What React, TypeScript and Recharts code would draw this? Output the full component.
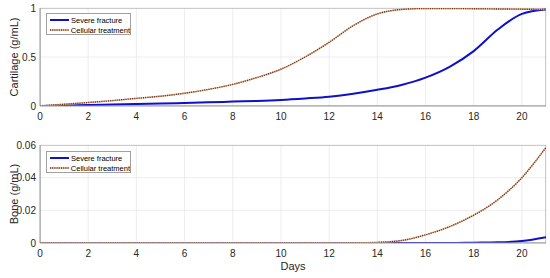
import { LineChart, Line, XAxis, YAxis, CartesianGrid, ReferenceArea } from 'recharts';

const days = [0, 1, 2, 3, 4, 5, 6, 7, 8, 9, 10, 11, 12, 13, 14, 15, 16, 17, 18, 19, 20, 21];
const cartilageSevere = [0, 0.005, 0.01, 0.015, 0.02, 0.025, 0.03, 0.037, 0.045, 0.052, 0.062, 0.077, 0.095, 0.125, 0.165, 0.215, 0.29, 0.4, 0.56, 0.78, 0.94, 0.985];
const cartilageCellular = [0, 0.018, 0.035, 0.055, 0.078, 0.1, 0.13, 0.17, 0.22, 0.29, 0.375, 0.5, 0.65, 0.82, 0.94, 0.985, 0.995, 0.995, 0.993, 0.99, 0.988, 0.985];
const boneSevere = [0, 0, 0, 0, 0, 0, 0, 0, 0, 0, 0, 0, 0, 0, 0, 0, 0, 0, 0.0002, 0.0004, 0.0012, 0.0035];
const boneCellular = [0, 0, 0, 0, 0, 0, 0, 0, 0, 0, 0, 0, 0, 0.0001, 0.0004, 0.0015, 0.005, 0.01, 0.017, 0.0265, 0.04, 0.0585];

const xTicks = [0, 2, 4, 6, 8, 10, 12, 14, 16, 18, 20];
const cartilageTicks = [0, 0.5, 1];
const boneTicks = [0, 0.02, 0.04, 0.06];
const seriesNames = ['Severe fracture', 'Cellular treatment'];

const cartilageData = days.map((d, i) => ({ day: d, severe: cartilageSevere[i], cellular: cartilageCellular[i] }));
const boneData = days.map((d, i) => ({ day: d, severe: boneSevere[i], cellular: boneCellular[i] }));

const BLUE = '#1010c8';
const BROWN_BASE = '#dcae86';
const BROWN_DOT = '#6e2a12';
const FONT = 'Liberation Sans, Arial, sans-serif';
const tickStyle = { fontSize: 10, fill: '#262626', fontFamily: FONT };

function LegendBox({ top }: { top: number }) {
  return (
    <div
      style={{
        position: 'absolute',
        left: 46,
        top,
        width: 85,
        height: 22,
        border: '1px solid #a0a0a0',
        background: 'white',
        fontFamily: FONT,
        fontSize: 7.5,
        color: '#000',
        boxSizing: 'border-box',
      }}
    >
      {seriesNames.map((name, i) => (
        <div key={name} style={{ display: 'flex', alignItems: 'center', height: 10, marginTop: i === 0 ? 1 : 0 }}>
          <svg width={22} height={6} style={{ marginLeft: 2 }}>
            {i === 0 ? (
              <line x1={1} y1={3} x2={20} y2={3} stroke={BLUE} strokeWidth={2} />
            ) : (
              <>
                <line x1={1} y1={3} x2={20} y2={3} stroke={BROWN_BASE} strokeWidth={1.4} />
                <line x1={1} y1={3} x2={20} y2={3} stroke={BROWN_DOT} strokeWidth={1.4} strokeDasharray="1 1.2" />
              </>
            )}
          </svg>
          <span style={{ whiteSpace: 'nowrap' }}>{name}</span>
        </div>
      ))}
    </div>
  );
}

function Panel({
  data,
  height,
  top,
  bottom,
  yMax,
  ticks,
  yLabel,
  xLabel,
}: {
  data: Array<Record<string, number>>;
  height: number;
  top: number;
  bottom: number;
  yMax: number;
  ticks: number[];
  yLabel: string;
  xLabel?: string;
}) {
  return (
    <LineChart width={550} height={height} data={data} margin={{ top, right: 4, bottom: 0, left: 0 }}>
      <CartesianGrid stroke="#e8e8e8" strokeWidth={0.8} />
      <XAxis
        dataKey="day"
        type="number"
        domain={[0, 21]}
        ticks={xTicks}
        allowDataOverflow
        height={bottom}
        tickLine={false}
        tickSize={4}
        tickMargin={3}
        axisLine={{ stroke: '#a0a0a0' }}
        tick={tickStyle}
        label={
          xLabel
            ? { value: xLabel, position: 'insideBottom', offset: 8, style: { fontSize: 11, fill: '#262626', fontFamily: FONT } }
            : undefined
        }
      />
      <YAxis
        type="number"
        domain={[0, yMax]}
        ticks={ticks}
        allowDataOverflow
        width={40}
        tickLine={false}
        tickSize={2}
        tickMargin={2}
        axisLine={{ stroke: '#a0a0a0' }}
        tick={tickStyle}
        label={{
          value: yLabel,
          angle: -90,
          position: 'insideLeft',
          offset: 14,
          style: { textAnchor: 'middle', fontSize: 11, fill: '#262626', fontFamily: FONT },
        }}
      />
      <ReferenceArea x1={0} x2={21} y1={0} y2={yMax} fill="none" stroke="#a0a0a0" strokeOpacity={1} ifOverflow="hidden" />
      <Line type="monotone" dataKey="severe" stroke={BLUE} strokeWidth={2} dot={false} isAnimationActive={false} />
      <Line type="monotone" dataKey="cellular" stroke={BROWN_BASE} strokeWidth={1.4} dot={false} isAnimationActive={false} />
      <Line
        type="monotone"
        dataKey="cellular"
        stroke={BROWN_DOT}
        strokeWidth={1.4}
        strokeDasharray="1 1.2"
        dot={false}
        isAnimationActive={false}
      />
    </LineChart>
  );
}

export default function App() {
  return (
    <div style={{ position: 'absolute', left: 0, top: 0, width: 550, height: 278, background: 'white' }}>
      <Panel data={cartilageData} height={138} top={8} bottom={32} yMax={1} ticks={cartilageTicks} yLabel="Cartilage (g/mL)" />
      <Panel
        data={boneData}
        height={140}
        top={7}
        bottom={35}
        yMax={0.06}
        ticks={boneTicks}
        yLabel="Bone (g/mL)"
        xLabel="Days"
      />
      <LegendBox top={13} />
      <LegendBox top={151} />
    </div>
  );
}
